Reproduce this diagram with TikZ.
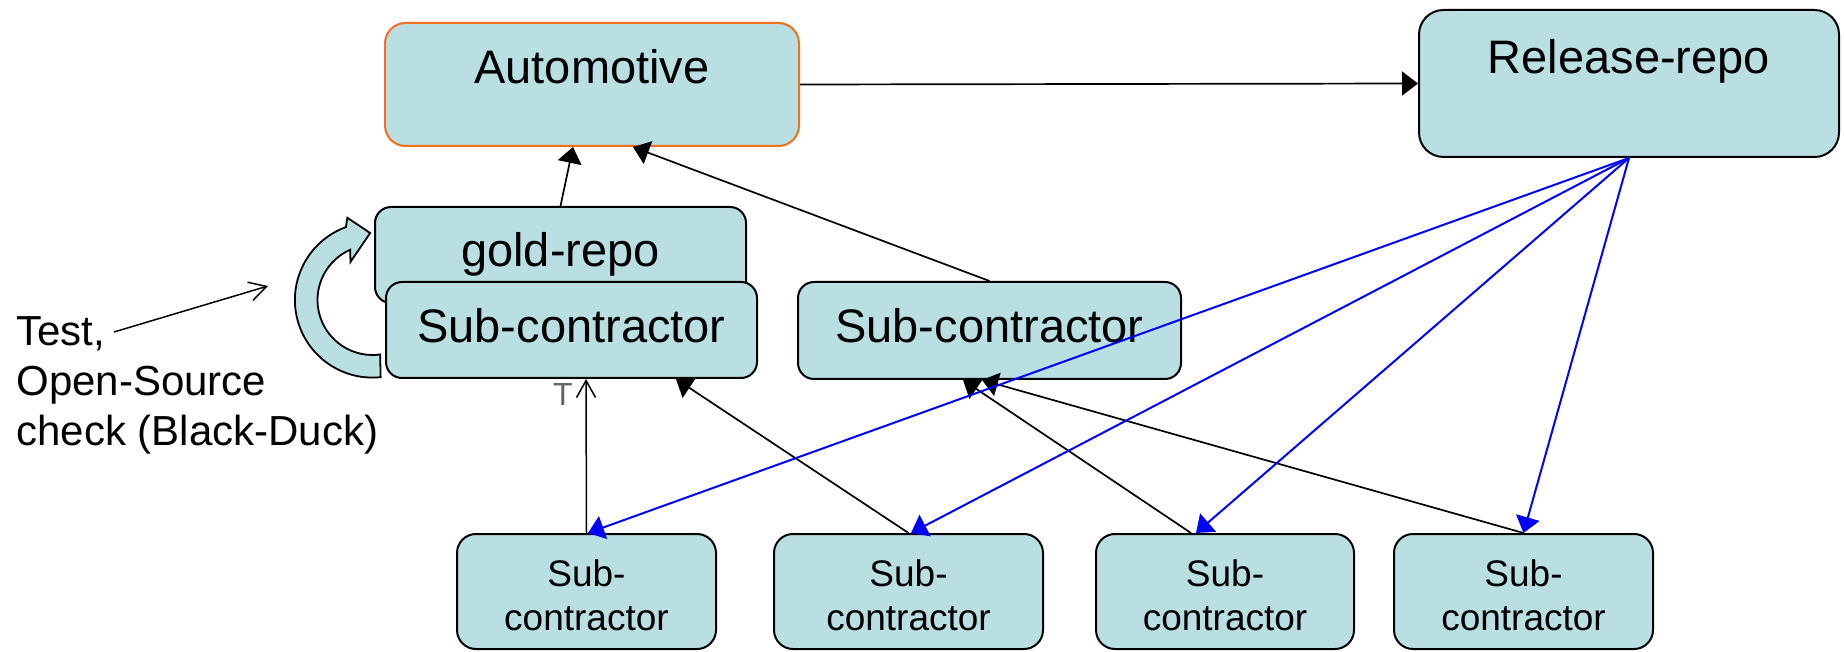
\documentclass[tikz,border=0pt]{standalone}
\usepackage{fontspec}
\setmainfont{Liberation Sans}
\usetikzlibrary{arrows.meta}

\definecolor{boxfill}{RGB}{185,223,227}
\definecolor{autoedge}{RGB}{240,112,30}

% two-line label of the small contractor boxes, baseline on the first line
\newcommand{\subcon}{\vtop{\halign{\hfil##\hfil\cr Sub-\cr contractor\cr}}}

\begin{document}
\begin{tikzpicture}[x=0.5pt, y=-0.5pt,
  box/.style={draw=black, line width=1pt, fill=boxfill, inner xsep=0pt,
    inner ysep=0pt, anchor=north west},
  bigtext/.style={font=\fontsize{23.5pt}{28pt}\selectfont},
  smalltext/.style={font=\fontsize{18.5pt}{22pt}\selectfont},
  bigbox/.style={box, bigtext, rounded corners=8pt, text height=30.5pt},
  smallbox/.style={box, smalltext, rounded corners=9.5pt, minimum height=57.5pt,
    text height=26pt, text depth=31.5pt},
  link/.style={draw=black, line width=0.85pt, -{Triangle[length=8pt,width=12pt]}},
  feed/.style={draw=blue, line width=1pt, -{Triangle[length=8pt,width=12pt]}},
  openlink/.style={draw=black, line width=0.75pt, -{Straight Barb[length=8.5pt,width=9.5pt]}}
]
\useasboundingbox (0,0) rectangle (1844,652);

% top row
\node[box, bigtext, draw=autoedge, rounded corners=10.25pt, minimum width=207pt,
  text height=30.5pt, text depth=31pt] (auto) at (384,22) {Automotive};
\node[box, bigtext, rounded corners=12.25pt, minimum width=210pt,
  text height=32pt, text depth=41.5pt] (rel) at (1418,9) {Release-repo};

% middle row
\node[bigbox, minimum width=185.5pt, text height=30pt, text depth=18pt] (gold) at (374,206) {gold-repo};
\node[bigbox, minimum width=185.5pt, text depth=17.5pt] (sub1) at (385,281) {Sub-contractor};
\node[bigbox, minimum width=191.5pt, text depth=18pt] (sub2) at (797,281) {Sub-contractor};

% bottom row
\node[smallbox, minimum width=129.5pt] (ca) at (456,533) {\subcon};
\node[smallbox, minimum width=134.5pt] (cb) at (773,533) {\subcon};
\node[smallbox, minimum width=129pt] (cc) at (1095,533) {\subcon};
\node[smallbox, minimum width=129.5pt] (cd) at (1393,533) {\subcon};

% side note
\node[anchor=base west, inner sep=0pt, font=\fontsize{21pt}{25pt}\selectfont] (note)
  at (16,346) {\vtop{\hbox{Test,}\hbox{Open-Source}\hbox{check (Black-Duck)}}};
\coordinate (notetail) at (114,332);
\coordinate (notetip) at (268,286);
\draw[openlink] (notetail) -- (notetip);

% circular block arrow for the test loop
\begin{scope}[shift={(372.5,300)}]
  \path[fill=boxfill, draw=black, line width=0.9pt, line join=miter]
    (-84:38.8pt) arc[start angle=-84, end angle=-250, radius=38.8pt]
    -- (107:43pt) -- (92:33.5pt) -- (120:22pt) -- (114:27.5pt)
    arc[start angle=114, end angle=278, radius=27.5pt] -- cycle;
\end{scope}

% small mark beside the open arrow
\node[anchor=base, inner sep=0pt, text=black!60, font=\fontsize{16pt}{19pt}\selectfont]
  (tmark) at (563,406) {T};

% black connectors
\draw[link] (auto.east) -- (rel.west);
\draw[link] (gold.north) -- ([xshift=-9.5pt]auto.south);
\draw[link] (sub2.north) -- ([xshift=20.5pt]auto.south);
\draw[openlink] (ca.north) -- ([xshift=7.25pt]sub1.south);
\draw[link] (cb.north) -- ([xshift=52.25pt]sub1.south);
\draw[link] ([xshift=-17pt]cc.north) -- ([xshift=-13.25pt]sub2.south);
\draw[link] (cd.north) -- ([xshift=-3.75pt]sub2.south);

% blue release connectors
\draw[feed] (rel.south) -- ([xshift=0.75pt]ca.north);
\draw[feed] (rel.south) -- ([xshift=1.25pt]cb.north);
\draw[feed] (rel.south) -- ([xshift=-14.5pt]cc.north);
\draw[feed] (rel.south) -- (cd.north);
\end{tikzpicture}
\end{document}
